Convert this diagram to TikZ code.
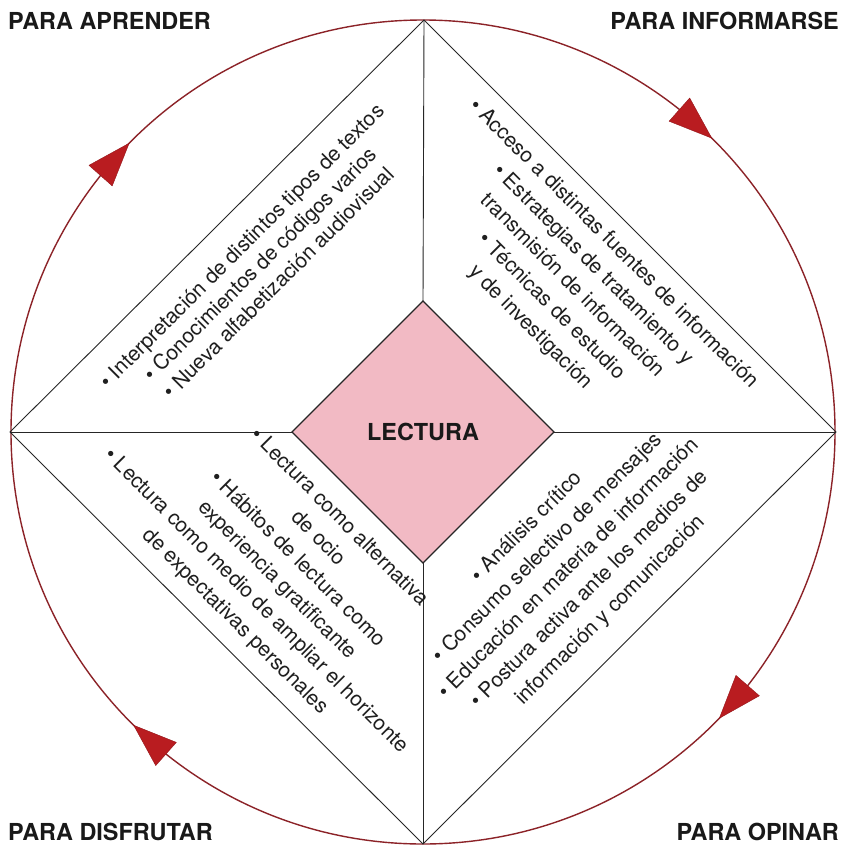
\documentclass[tikz,border=0pt]{standalone}
\usepackage{fontspec}
\setmainfont{TeX Gyre Heros}
\definecolor{ringred}{RGB}{140,35,40}
\definecolor{arrowred}{RGB}{185,28,32}
\definecolor{lecpink}{RGB}{242,186,196}
\begin{document}
\begin{tikzpicture}[x=1bp,y=-1bp,
  txtA/.style={font=\fontsize{21}{26}\selectfont, align=center, inner sep=0pt, text=black!88},
  txtB/.style={font=\fontsize{21}{29.5}\selectfont, align=center, inner sep=0pt, text=black!88},
  corner/.style={font=\fontsize{23.5}{26}\selectfont\bfseries, inner sep=0pt, text=black!90},
  ring/.style={draw=ringred, line width=1.4bp},
  tri/.style={fill=arrowred, draw=arrowred!80!black, line width=0.4bp, line join=round},
  edge/.style={draw=black!85, line width=0.9bp}]
\useasboundingbox (0,0) rectangle (847,845);
\fill[white] (0,0) rectangle (847,845);
% centre and vertices
\coordinate (C) at (423,432);
\coordinate (T) at (424,20);
\coordinate (R) at (836,432);
\coordinate (B) at (423,844);
\coordinate (L) at (10,432);
\coordinate (it) at (423,301);
\coordinate (ir) at (554,432);
\coordinate (ib) at (423,563);
\coordinate (il) at (292,432);
% circle
\draw[ring] (C) circle[radius=412bp];
% arrows (clockwise)
\foreach \a in {45.5,135.5,-44,225.4}{
  \begin{scope}[shift={(C)}, rotate=\a]
    \path[tri] (412,0) -- (425.2,-43.9) -- (394.2,-42.3) -- cycle;
  \end{scope}
}
% outer diamond
\draw[edge] (T) -- (R) -- (B) -- (L) -- cycle;
% spokes
\draw[edge] (T) -- (it);
\draw[edge] (ir) -- (R);
\draw[edge] (ib) -- (B);
\draw[edge] (L) -- (il);
% inner diamond
\draw[edge, fill=lecpink, line width=1.1bp] (it) -- (ir) -- (ib) -- (il) -- cycle;
\node[font=\fontsize{23.5}{26}\selectfont\bfseries, text=black!90] (lec) at (C) {LECTURA};
% quadrant texts
\node[txtA, rotate=45] (ul) at (260,264) {• Interpretación de distintos tipos de textos\\ • Conocimientos de códigos varios\\ • Nueva alfabetización audiovisual};
\node[txtB, rotate=-45] (ur) at (572,286) {• Acceso a distintas fuentes de información\\ • Estrategias de tratamiento y\\ transmisión de información\\ • Técnicas de estudio\\ y de investigación};
\node[txtB, rotate=-45] (ll) at (287,570) {• Lectura como alternativa\\ de ocio\\ • Hábitos de lectura como\\ experiencia gratificante\\ • Lectura como medio de ampliar el horizonte\\ de expectativas personales};
\node[txtB, rotate=45] (lr) at (569,569) {• Análisis crítico\\ • Consumo selectivo de mensajes\\ • Educación en materia de información\\ • Postura activa ante los medios de\\ información y comunicación};
% corner labels
\node[corner, anchor=base west] (pa) at (8,29) {PARA APRENDER};
\node[corner, anchor=base east] (pi) at (839,29) {PARA INFORMARSE};
\node[corner, anchor=base west] (pd) at (8,840) {PARA DISFRUTAR};
\node[corner, anchor=base east] (po) at (839,840) {PARA OPINAR};
\end{tikzpicture}
\end{document}
